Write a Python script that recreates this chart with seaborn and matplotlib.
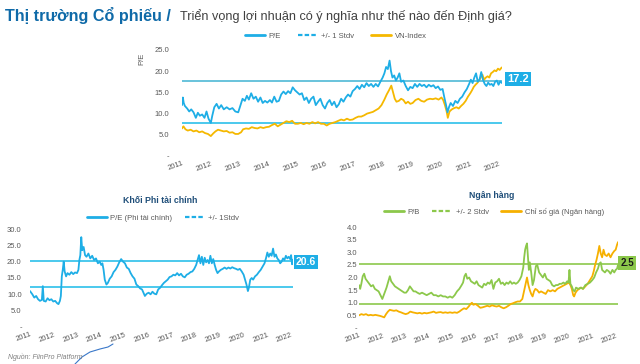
import matplotlib
matplotlib.use("Agg")
import matplotlib.pyplot as plt
import seaborn as sns
import pandas as pd
from matplotlib.lines import Line2D
from matplotlib.ticker import FuncFormatter

sns.set_theme(style="white")
plt.rcParams['font.family'] = ['Liberation Sans', 'DejaVu Sans']

# ---------------- data ----------------
years = list(range(2011, 2023))

pe_t = [2011.00, 2011.03, 2011.06, 2011.10, 2011.18, 2011.25, 2011.32, 2011.40, 2011.48, 2011.55, 2011.62, 2011.70, 2011.78, 2011.85, 2011.92,
        2012.00, 2012.05, 2012.12, 2012.20, 2012.28, 2012.36, 2012.45, 2012.55, 2012.65, 2012.75, 2012.85, 2012.95,
        2013.02, 2013.10, 2013.18, 2013.25, 2013.32, 2013.40, 2013.48, 2013.56, 2013.64, 2013.72, 2013.80, 2013.88, 2013.96,
        2014.05, 2014.12, 2014.20, 2014.28, 2014.36, 2014.44, 2014.52, 2014.60, 2014.68, 2014.76, 2014.84, 2014.92,
        2015.00, 2015.08, 2015.16, 2015.24, 2015.32, 2015.40, 2015.48, 2015.56, 2015.64, 2015.72, 2015.80, 2015.88, 2015.96,
        2016.04, 2016.12, 2016.20, 2016.28, 2016.36, 2016.44, 2016.52, 2016.60, 2016.68, 2016.76, 2016.84, 2016.92,
        2017.00, 2017.08, 2017.16, 2017.24, 2017.32, 2017.40, 2017.48, 2017.56, 2017.64, 2017.72, 2017.80, 2017.88, 2017.96,
        2018.02, 2018.08, 2018.14, 2018.20, 2018.25, 2018.30, 2018.36, 2018.42, 2018.48, 2018.54, 2018.60, 2018.68, 2018.76, 2018.84, 2018.92,
        2019.00, 2019.08, 2019.16, 2019.24, 2019.32, 2019.40, 2019.48, 2019.56, 2019.64, 2019.72, 2019.80, 2019.88, 2019.96,
        2020.04, 2020.10, 2020.16, 2020.21, 2020.26, 2020.32, 2020.40, 2020.48, 2020.56, 2020.64, 2020.72, 2020.80, 2020.88, 2020.96,
        2021.02, 2021.08, 2021.14, 2021.20, 2021.26, 2021.32, 2021.38, 2021.44, 2021.50, 2021.56, 2021.62, 2021.68, 2021.74, 2021.80, 2021.86, 2021.92, 2021.98,
        2022.04, 2022.10]
pe_v = [12.0, 13.8, 12.5, 11.8, 11.2, 10.5, 11.0, 10.3, 9.0, 10.2, 9.5, 9.8, 9.0, 10.5, 8.8,
        7.8, 9.5, 11.5, 12.3, 11.2, 12.0, 11.0, 11.5, 11.0, 11.3, 10.5, 10.3,
        11.8, 13.5, 13.0, 14.2, 13.3, 14.8, 13.5, 14.0, 12.8, 13.8, 12.5, 13.0, 12.6,
        13.2, 12.6, 14.0, 12.8, 13.0, 14.5, 15.2, 14.6, 15.3, 14.8, 16.2, 15.5,
        15.0, 14.5, 14.8, 13.2, 13.8, 12.5, 13.5, 14.0, 12.0, 12.8, 13.5, 12.0, 11.2,
        12.5, 13.2, 12.0, 12.8, 11.5, 12.2, 13.5, 12.8, 13.8, 14.5, 14.0, 15.3,
        15.8, 16.5, 15.8, 16.8, 16.2, 17.2, 16.5, 17.0, 16.3, 17.0, 16.4, 17.5, 18.5,
        19.5, 21.0, 20.5, 22.5, 20.0, 18.5, 19.0, 17.8, 18.5, 19.5, 17.5, 17.8, 16.5, 15.5, 16.3,
        16.0, 17.0, 16.3, 17.0, 16.5, 16.8, 16.2, 16.8, 16.4, 16.7, 16.0, 16.4, 15.6,
        15.8, 13.8, 12.0, 10.3, 11.5, 12.5, 11.8, 13.0, 12.5, 13.5, 14.0, 15.0, 15.8, 17.0,
        18.0, 17.2, 18.5, 19.5, 17.5, 18.0, 19.8, 18.0, 17.0, 16.5, 17.3, 16.8, 17.0, 16.5, 17.5, 17.8, 16.8,
        17.6, 17.2]

vn_t = [2011.00, 2011.05, 2011.12, 2011.20, 2011.30, 2011.40, 2011.50, 2011.60, 2011.70, 2011.80, 2011.90,
        2012.00, 2012.08, 2012.16, 2012.25, 2012.35, 2012.45, 2012.55, 2012.65, 2012.75, 2012.85, 2012.95,
        2013.05, 2013.12, 2013.22, 2013.32, 2013.42, 2013.52, 2013.62, 2013.72, 2013.82, 2013.92,
        2014.02, 2014.12, 2014.22, 2014.32, 2014.42, 2014.52, 2014.62, 2014.72, 2014.82, 2014.92,
        2015.02, 2015.12, 2015.22, 2015.32, 2015.42, 2015.52, 2015.62, 2015.72, 2015.82, 2015.92,
        2016.02, 2016.12, 2016.22, 2016.32, 2016.42, 2016.52, 2016.62, 2016.72, 2016.82, 2016.92,
        2017.02, 2017.12, 2017.22, 2017.32, 2017.42, 2017.52, 2017.62, 2017.72, 2017.82, 2017.92,
        2018.02, 2018.10, 2018.18, 2018.26, 2018.32, 2018.38, 2018.44, 2018.52, 2018.60, 2018.68, 2018.76, 2018.84, 2018.92,
        2019.00, 2019.10, 2019.20, 2019.30, 2019.40, 2019.50, 2019.60, 2019.70, 2019.80, 2019.90,
        2020.00, 2020.06, 2020.12, 2020.18, 2020.22, 2020.28, 2020.36, 2020.44, 2020.52, 2020.60, 2020.68, 2020.76, 2020.84, 2020.92,
        2021.00, 2021.06, 2021.12, 2021.18, 2021.24, 2021.30, 2021.36, 2021.42, 2021.48, 2021.54, 2021.60, 2021.66, 2021.72, 2021.78, 2021.84, 2021.90, 2021.96,
        2022.02, 2022.08, 2022.10]
vn_v = [6.5, 7.0, 6.3, 6.0, 6.2, 5.8, 6.0, 5.6, 5.8, 5.4, 5.2,
        4.7, 5.3, 5.8, 6.2, 6.0, 5.8, 5.9, 5.5, 5.6, 5.2, 5.2,
        5.6, 6.3, 6.5, 6.4, 6.8, 6.6, 6.5, 6.8, 6.6, 6.8,
        6.9, 7.3, 7.6, 7.0, 7.4, 7.8, 8.2, 8.0, 8.3, 7.6,
        7.6, 7.8, 7.5, 7.8, 7.6, 8.0, 7.7, 8.0, 7.6, 7.6,
        7.2, 7.6, 7.8, 8.0, 8.3, 8.6, 8.4, 8.8, 8.5, 8.6,
        9.0, 9.3, 9.3, 9.6, 10.0, 10.2, 10.4, 10.8, 11.2, 12.0,
        13.3, 14.5, 15.5, 16.6, 15.0, 13.5, 12.8, 13.0, 13.5, 13.2, 12.4, 12.8, 12.3,
        12.5, 13.2, 13.5, 13.0, 12.8, 13.3, 13.5, 13.4, 13.6, 13.3,
        13.8, 13.2, 12.0, 10.5, 9.0, 10.5, 11.0, 11.3, 11.5, 11.2, 11.8, 12.3, 13.0, 14.0,
        14.8, 15.5, 16.3, 16.8, 17.2, 17.8, 18.5, 19.2, 18.0, 18.5, 18.8, 18.5, 19.5, 19.8, 20.2, 20.0, 20.6,
        20.3, 20.8, 20.9]
pe_band = [7.9, 17.7]

nf_t = [2011.00, 2011.05, 2011.10, 2011.18, 2011.26, 2011.34, 2011.42, 2011.50, 2011.54, 2011.58, 2011.66, 2011.74, 2011.82, 2011.90, 2011.98,
        2012.06, 2012.14, 2012.20, 2012.26, 2012.30, 2012.34, 2012.38, 2012.42, 2012.46, 2012.52, 2012.58, 2012.66, 2012.74, 2012.82, 2012.90, 2012.98,
        2013.04, 2013.08, 2013.12, 2013.16, 2013.20, 2013.26, 2013.32, 2013.38, 2013.46, 2013.54, 2013.62, 2013.70, 2013.78, 2013.86, 2013.94,
        2014.00, 2014.05, 2014.10, 2014.15, 2014.22, 2014.28, 2014.36, 2014.44, 2014.52, 2014.60, 2014.68, 2014.76, 2014.84, 2014.92,
        2015.00, 2015.08, 2015.16, 2015.24, 2015.32, 2015.40, 2015.48, 2015.56, 2015.64, 2015.72, 2015.78, 2015.84, 2015.92,
        2016.00, 2016.08, 2016.16, 2016.24, 2016.32, 2016.40, 2016.48, 2016.56, 2016.64, 2016.72, 2016.80, 2016.88, 2016.96,
        2017.04, 2017.12, 2017.20, 2017.28, 2017.36, 2017.44, 2017.52, 2017.60, 2017.68, 2017.76, 2017.84, 2017.92,
        2018.00, 2018.06, 2018.12, 2018.18, 2018.24, 2018.30, 2018.36, 2018.42, 2018.48, 2018.54, 2018.60, 2018.66, 2018.72, 2018.78, 2018.84, 2018.90, 2018.96,
        2019.04, 2019.12, 2019.20, 2019.28, 2019.36, 2019.44, 2019.52, 2019.60, 2019.68, 2019.76, 2019.84, 2019.92,
        2020.00, 2020.06, 2020.12, 2020.18, 2020.22, 2020.28, 2020.34, 2020.40, 2020.48, 2020.56, 2020.64, 2020.72, 2020.80, 2020.88, 2020.94,
        2021.00, 2021.06, 2021.12, 2021.18, 2021.24, 2021.30, 2021.36, 2021.42, 2021.48, 2021.54, 2021.60, 2021.66, 2021.72, 2021.78, 2021.84, 2021.90, 2021.96,
        2022.00, 2022.04, 2022.08]
nf_v = [11.0, 10.5, 10.0, 9.0, 9.5, 8.5, 8.0, 8.3, 12.5, 8.0, 7.8, 8.8, 8.2, 8.5, 7.8,
        8.0, 7.3, 7.0, 8.0, 9.5, 15.5, 17.5, 20.0, 17.0, 15.5, 16.5, 16.0, 16.8, 16.2, 16.7, 16.5,
        17.5, 20.5, 22.0, 27.5, 23.5, 24.5, 22.0, 21.5, 22.5, 21.0, 21.8, 20.5, 21.0, 19.5, 20.0,
        19.0, 19.5, 17.5, 14.5, 13.0, 13.5, 14.8, 15.5, 16.8, 17.5, 18.5, 19.8, 20.8, 20.0,
        19.5, 18.2, 17.8, 16.5, 15.5, 14.8, 13.0, 12.5, 11.8, 11.5, 10.5, 9.5, 10.2,
        10.5, 10.0, 10.8, 10.2, 10.0, 11.5, 12.0, 12.8, 13.5, 14.0, 14.5, 15.3, 15.5,
        16.0, 15.8, 16.5, 15.8, 16.3, 15.5, 15.2, 16.0, 16.3, 16.8, 17.0, 17.8,
        19.0, 20.5, 22.0, 19.5, 21.5, 19.0, 21.2, 19.8, 20.5, 19.5, 21.8, 19.5, 20.8, 19.0, 17.5, 16.5, 17.0,
        17.5, 17.8, 18.2, 17.8, 18.2, 17.9, 18.3, 18.0, 17.8, 17.5, 17.8, 17.0,
        16.0, 14.5, 13.0, 11.0, 12.0, 14.5, 15.0, 14.5, 15.5, 16.0, 16.8, 17.5, 18.5, 19.5, 21.0,
        22.8, 21.5, 22.5, 21.8, 24.0, 21.5, 22.2, 21.0, 20.5, 19.5, 20.0, 21.0, 20.5, 21.8, 21.0, 21.5, 20.8,
        22.0, 19.2, 20.6]
nf_band = [12.3, 20.3]

pb_t = [2011.00, 2011.05, 2011.10, 2011.16, 2011.22, 2011.28, 2011.36, 2011.44, 2011.52, 2011.60, 2011.68, 2011.76, 2011.84, 2011.92,
        2012.00, 2012.04, 2012.10, 2012.18, 2012.26, 2012.32, 2012.38, 2012.46, 2012.54, 2012.62, 2012.70, 2012.78, 2012.86, 2012.94,
        2013.02, 2013.10, 2013.18, 2013.26, 2013.34, 2013.42, 2013.50, 2013.60, 2013.70, 2013.80, 2013.90,
        2014.00, 2014.10, 2014.20, 2014.30, 2014.40, 2014.50, 2014.60, 2014.70, 2014.80, 2014.90,
        2015.00, 2015.10, 2015.20, 2015.30, 2015.40, 2015.46, 2015.52, 2015.58, 2015.64, 2015.72, 2015.80, 2015.88, 2015.96,
        2016.04, 2016.12, 2016.20, 2016.28, 2016.36, 2016.44, 2016.52, 2016.60, 2016.68, 2016.76, 2016.84, 2016.92,
        2017.00, 2017.08, 2017.16, 2017.24, 2017.32, 2017.40, 2017.48, 2017.56, 2017.64, 2017.72, 2017.80, 2017.88, 2017.96,
        2018.04, 2018.08, 2018.12, 2018.16, 2018.20, 2018.24, 2018.28, 2018.32, 2018.38, 2018.44, 2018.50, 2018.58, 2018.64, 2018.72, 2018.80, 2018.88, 2018.96,
        2019.04, 2019.12, 2019.20, 2019.28, 2019.36, 2019.44, 2019.52, 2019.60, 2019.68, 2019.76, 2019.84, 2019.92, 2019.98,
        2020.02, 2020.06, 2020.12, 2020.18, 2020.24, 2020.30, 2020.40, 2020.50, 2020.60, 2020.70, 2020.80, 2020.90,
        2021.00, 2021.08, 2021.16, 2021.24, 2021.30, 2021.36, 2021.42, 2021.48, 2021.54, 2021.62, 2021.70, 2021.78, 2021.86, 2021.94,
        2022.00, 2022.06, 2022.10]
pb_v = [1.70, 1.55, 1.75, 2.05, 2.15, 1.95, 1.85, 1.75, 1.65, 1.70, 1.55, 1.50, 1.45, 1.30,
        1.15, 1.25, 1.40, 1.60, 1.85, 2.05, 1.85, 1.75, 1.65, 1.60, 1.55, 1.50, 1.45, 1.40,
        1.40, 1.50, 1.65, 1.55, 1.45, 1.45, 1.40, 1.35, 1.40, 1.35, 1.30,
        1.35, 1.40, 1.30, 1.30, 1.25, 1.30, 1.25, 1.25, 1.20, 1.25,
        1.20, 1.30, 1.45, 1.55, 1.70, 1.80, 2.05, 2.15, 1.95, 2.00, 1.85, 1.80, 1.75,
        1.85, 1.70, 1.65, 1.60, 1.75, 1.70, 1.80, 1.75, 1.90, 1.55, 1.80, 1.85,
        1.95, 1.75, 1.80, 1.70, 1.80, 1.75, 1.85, 1.75, 1.80, 1.75, 1.80, 1.90, 2.05,
        2.40, 2.80, 3.10, 3.25, 3.35, 2.80, 2.30, 2.60, 2.20, 1.70, 1.90, 2.45, 2.50, 2.20, 2.10, 2.00, 2.15,
        1.95, 1.90, 1.85, 1.70, 1.65, 1.70, 1.70, 1.75, 1.75, 1.80, 1.75, 1.85, 1.80,
        2.30, 1.75, 1.65, 1.50, 1.45, 1.60, 1.55, 1.60, 1.55, 1.70, 1.75, 1.80,
        1.90, 2.00, 2.20, 2.35, 2.55, 2.60, 2.30, 2.25, 2.20, 2.30, 2.25, 2.15, 2.30, 2.20,
        2.30, 2.35, 2.50]

bk_t = [2011.00, 2011.10, 2011.20, 2011.30, 2011.40, 2011.50, 2011.60, 2011.70, 2011.80, 2011.90,
        2012.00, 2012.08, 2012.16, 2012.24, 2012.32, 2012.40, 2012.50, 2012.60, 2012.70, 2012.80, 2012.90,
        2013.00, 2013.10, 2013.20, 2013.30, 2013.40, 2013.50, 2013.60, 2013.70, 2013.80, 2013.90,
        2014.00, 2014.10, 2014.20, 2014.30, 2014.40, 2014.50, 2014.60, 2014.70, 2014.80, 2014.90,
        2015.00, 2015.10, 2015.20, 2015.30, 2015.40, 2015.50, 2015.60, 2015.70, 2015.78, 2015.84, 2015.90,
        2016.00, 2016.10, 2016.20, 2016.30, 2016.40, 2016.50, 2016.60, 2016.70, 2016.80, 2016.90,
        2017.00, 2017.10, 2017.20, 2017.30, 2017.40, 2017.50, 2017.60, 2017.70, 2017.80, 2017.90,
        2018.00, 2018.06, 2018.12, 2018.16, 2018.20, 2018.26, 2018.32, 2018.38, 2018.44, 2018.50, 2018.56, 2018.64, 2018.72, 2018.80, 2018.90,
        2019.00, 2019.10, 2019.20, 2019.30, 2019.40, 2019.50, 2019.60, 2019.70, 2019.80, 2019.90,
        2020.00, 2020.06, 2020.12, 2020.18, 2020.22, 2020.28, 2020.36, 2020.44, 2020.52, 2020.60, 2020.70, 2020.80, 2020.90,
        2021.00, 2021.06, 2021.12, 2021.18, 2021.24, 2021.30, 2021.36, 2021.42, 2021.48, 2021.54, 2021.62, 2021.70, 2021.78, 2021.86, 2021.94,
        2022.00, 2022.06, 2022.10]
bk_v = [0.50, 0.55, 0.52, 0.55, 0.50, 0.52, 0.50, 0.52, 0.50, 0.48,
        0.45, 0.42, 0.55, 0.65, 0.72, 0.70, 0.68, 0.70, 0.65, 0.62, 0.58,
        0.55, 0.58, 0.65, 0.62, 0.60, 0.58, 0.60, 0.57, 0.60, 0.58,
        0.60, 0.62, 0.65, 0.60, 0.62, 0.63, 0.60, 0.62, 0.60, 0.62,
        0.60, 0.62, 0.60, 0.65, 0.72, 0.78, 0.75, 0.85, 0.95, 1.00, 0.92,
        0.95, 0.88, 0.80, 0.82, 0.85, 0.88, 0.85, 0.90, 0.87, 0.85,
        0.88, 0.82, 0.78, 0.82, 0.88, 0.95, 0.98, 1.02, 1.05, 1.05,
        1.15, 1.40, 1.65, 1.80, 2.00, 1.70, 1.50, 1.35, 1.25, 1.45, 1.55, 1.50, 1.40, 1.45, 1.40,
        1.35, 1.50, 1.45, 1.50, 1.45, 1.55, 1.60, 1.65, 1.70, 1.75,
        1.80, 1.70, 1.55, 1.30, 1.25, 1.40, 1.50, 1.55, 1.60, 1.55, 1.65, 1.75, 1.90,
        2.05, 2.25, 2.50, 2.70, 2.95, 3.25, 2.95, 2.80, 3.10, 2.90, 2.85, 2.95, 2.80, 2.95, 3.05,
        3.10, 3.30, 3.40]
pb_band = [0.97, 2.53]

# ---------------- styling ----------------
W, H = 640, 364
CYAN = "#1eaee6"
BAND_HI = "#4fb9d6"
BAND_LO = "#2cc0ea"
YELLOW = "#f5b800"
GREEN = "#8cc84b"
ORANGE = "#f6b000"
TICK = "#595959"
NAVY = "#1f4e79"
TFS = 5.5

fig = plt.figure(figsize=(6.4, 3.64), dpi=100)
fig.patch.set_facecolor("white")


def px_axes(x0, x1, ytop, ybot):
    return fig.add_axes([x0 / W, 1 - ybot / H, (x1 - x0) / W, (ybot - ytop) / H])


def style(ax, ylim, yticks, xlim, pad_y):
    ax.set_xlim(*xlim)
    ax.set_ylim(*ylim)
    ax.set_yticks(yticks)
    ax.yaxis.set_major_formatter(FuncFormatter(lambda v, p: "-" if abs(v) < 1e-9 else f"{v:.1f}"))
    ax.set_xticks(years)
    ax.set_xticklabels([str(y) for y in years], rotation=20, ha="right", rotation_mode="anchor")
    ax.tick_params(axis="both", length=0, labelsize=TFS, labelcolor=TICK)
    ax.tick_params(axis="y", pad=pad_y)
    ax.tick_params(axis="x", pad=3)
    ax.set_xlabel("")
    ax.set_ylabel("")
    for s in ax.spines.values():
        s.set_visible(False)
    ax.set_facecolor("none")
    ax.grid(False)


# ---- top chart ----
ax1 = px_axes(182, 502, 50, 156)
df_pe = pd.DataFrame({"t": pe_t, "v": pe_v})
df_vn = pd.DataFrame({"t": vn_t, "v": vn_v})
ax1.axhline(pe_band[1], color=BAND_HI, lw=1.2, zorder=1)
ax1.axhline(pe_band[0], color=BAND_LO, lw=1.2, zorder=1)
sns.lineplot(data=df_pe, x="t", y="v", ax=ax1, color=CYAN, lw=1.3, zorder=3)
sns.lineplot(data=df_vn, x="t", y="v", ax=ax1, color=YELLOW, lw=1.3, zorder=2)
style(ax1, (0, 25), [0, 5, 10, 15, 20, 25], (2011.0, 2022.10), 9)
ax1.set_ylabel("P/E", fontsize=TFS, color=TICK, labelpad=2)
ax1.yaxis.set_label_coords(-0.115, 0.92)

fig.legend(handles=[Line2D([], [], color=CYAN, lw=2),
                    Line2D([], [], color=CYAN, lw=1.6, ls=(0, (2, 1))),
                    Line2D([], [], color=YELLOW, lw=2)],
           labels=["P/E", "+/- 1 Stdv", "VN-Index"],
           loc="center", bbox_to_anchor=(336 / W, 1 - 36 / H), ncol=3, frameon=False,
           fontsize=TFS, handlelength=2.6, columnspacing=2.2, handletextpad=0.5,
           labelcolor=TICK)

fig.text(518 / W, 1 - 79 / H, f"{pe_v[-1]:.1f}", ha="center", va="center", fontsize=8,
         fontweight="bold", color="white",
         bbox=dict(boxstyle="square,pad=0.2", fc=CYAN, ec="none"))

# ---- bottom-left chart ----
ax2 = px_axes(30, 293, 229, 327)
df_nf = pd.DataFrame({"t": nf_t, "v": nf_v})
ax2.axhline(nf_band[1], color=BAND_LO, lw=1.2, zorder=1)
ax2.axhline(nf_band[0], color=BAND_LO, lw=1.2, zorder=1)
sns.lineplot(data=df_nf, x="t", y="v", ax=ax2, color=CYAN, lw=1.3, zorder=3)
style(ax2, (0, 30), [0, 5, 10, 15, 20, 25, 30], (2011.0, 2022.08), 6)

fig.text(160 / W, 1 - 200 / H, "Khối Phi tài chính", ha="center", va="center",
         fontsize=6.3, fontweight="bold", color=NAVY)
fig.legend(handles=[Line2D([], [], color=CYAN, lw=2),
                    Line2D([], [], color=CYAN, lw=1.6, ls=(0, (2, 1)))],
           labels=["P/E (Phi tài chính)", "+/- 1Stdv"],
           loc="center", bbox_to_anchor=(163 / W, 1 - 218 / H), ncol=2, frameon=False,
           fontsize=TFS, handlelength=2.6, columnspacing=1.6, handletextpad=0.5,
           labelcolor=TICK)
fig.text(306 / W, 1 - 262 / H, f"{nf_v[-1]:.1f}", ha="center", va="center", fontsize=7.5,
         fontweight="bold", color="white",
         bbox=dict(boxstyle="square,pad=0.2", fc=CYAN, ec="none"))

# ---- bottom-right chart ----
ax3 = px_axes(359, 618, 227, 328)
df_pb = pd.DataFrame({"t": pb_t, "v": pb_v})
df_bk = pd.DataFrame({"t": bk_t, "v": bk_v})
ax3.axhline(pb_band[1], color=GREEN, lw=1.2, zorder=1)
ax3.axhline(pb_band[0], color=GREEN, lw=1.2, zorder=1)
sns.lineplot(data=df_bk, x="t", y="v", ax=ax3, color=ORANGE, lw=1.3, zorder=2)
sns.lineplot(data=df_pb, x="t", y="v", ax=ax3, color=GREEN, lw=1.3, zorder=3)
style(ax3, (0, 4), [0, 0.5, 1, 1.5, 2, 2.5, 3, 3.5, 4], (2011.0, 2022.10), 1)

fig.text(492 / W, 1 - 196 / H, "Ngân hàng", ha="center", va="center",
         fontsize=6.3, fontweight="bold", color=NAVY)
fig.legend(handles=[Line2D([], [], color=GREEN, lw=2),
                    Line2D([], [], color=GREEN, lw=1.6, ls=(0, (2, 1))),
                    Line2D([], [], color=ORANGE, lw=2)],
           labels=["P/B", "+/- 2 Stdv", "Chỉ số giá (Ngân hàng)"],
           loc="center", bbox_to_anchor=(494 / W, 1 - 212 / H), ncol=3, frameon=False,
           fontsize=TFS, handlelength=2.6, columnspacing=1.6, handletextpad=0.5,
           labelcolor=TICK)
fig.text(627 / W, 1 - 263 / H, f"{pb_v[-1]:.1f}", ha="center", va="center", fontsize=7,
         fontweight="bold", color="#1a1a1a",
         bbox=dict(boxstyle="square,pad=0.2", fc=GREEN, ec="none"))

# ---- titles / notes ----
fig.text(5 / W, 1 - 15 / H, "Thị trường Cổ phiếu /", ha="left", va="center",
         fontsize=11.6, fontweight="bold", color="#0f6aa8")
fig.text(180 / W, 1 - 16 / H, "Triển vọng lợi nhuận có ý nghĩa như thế nào đến Định giá?",
         ha="left", va="center", fontsize=9.1, color="#404040")
fig.text(8 / W, 1 - 357 / H, "Nguồn: FiinPro Platform", ha="left", va="center",
         fontsize=5, style="italic", color="#7f7f7f")

stroke_x = [75, 82, 90, 100, 108, 113]
stroke_y = [364, 357, 352, 349, 347, 344]
fig.add_artist(Line2D([x / W for x in stroke_x], [1 - y / H for y in stroke_y],
                      color="#3a78c9", lw=0.8, transform=fig.transFigure))

fig.savefig("out.png", dpi=100)
